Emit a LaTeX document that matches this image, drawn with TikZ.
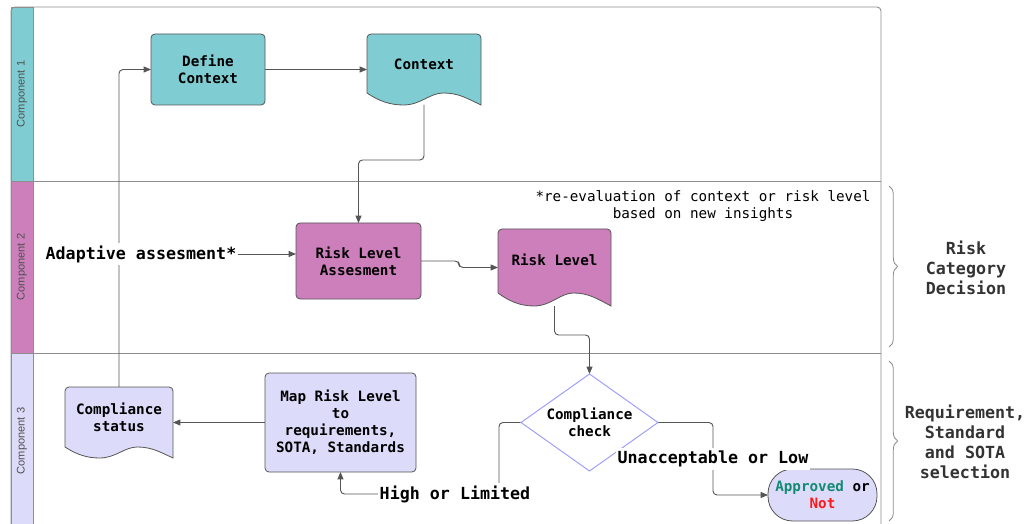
\documentclass[tikz,border=0pt]{standalone}
\usepackage{fontspec}
\setmainfont{DejaVu Sans Mono}
\newfontfamily\lanefont{Liberation Sans}
\usetikzlibrary{arrows.meta,decorations.pathreplacing,calc}
\definecolor{teal1}{HTML}{7FCDD3}
\definecolor{pink1}{HTML}{CC7FBB}
\definecolor{lav1}{HTML}{DCDCFA}
\definecolor{edge}{HTML}{555555}
\definecolor{framec}{HTML}{8E8E8E}
\definecolor{okgreen}{HTML}{138A72}
\definecolor{nored}{HTML}{FF1A1A}
\definecolor{diab}{HTML}{9A9AFA}
\definecolor{lanegray}{HTML}{505050}
\definecolor{rtext}{HTML}{333333}
\pgfdeclarelayer{bg}
\pgfdeclarelayer{cn}
\pgfsetlayers{bg,cn,main}
\newcommand\docshape[6]{%
 \path[draw=edge, line width=0.6pt, fill=#6] (#1,{#4-#5}) [rounded corners=3pt] -- (#1,#2) -- (#3,#2) [sharp corners] -- (#3,#4)
 .. controls ({#3-0.12*(#3-#1)},{#4-0.55*#5}) and ({#1+0.8*(#3-#1)},{#4-#5}) .. ({#1+0.67*(#3-#1)},{#4-#5})
 .. controls ({#1+0.55*(#3-#1)},{#4-#5}) and ({#1+0.47*(#3-#1)},#4) .. ({#1+0.32*(#3-#1)},#4)
 .. controls ({#1+0.2*(#3-#1)},#4) and ({#1+0.1*(#3-#1)},{#4-0.35*#5}) .. (#1,{#4-#5}) -- cycle;}
\begin{document}
\begin{tikzpicture}[x=0.75pt,y=-0.75pt,
  every node/.style={inner sep=0pt, outer sep=0pt},
  fa/.style={font=\bfseries\fontsize{10.7}{12.75}\selectfont},
  fb/.style={font=\bfseries\fontsize{12.5}{15}\selectfont},
  procbox/.style={draw=edge, line width=0.6pt, rounded corners=3pt, align=center, fa},
  doctext/.style={align=center, fa},
  conn/.style={draw=edge, line width=0.7pt, rounded corners=3pt, -{Triangle[length=5.5pt,width=4.5pt]}},
  lbl/.style={fill=white, fb, inner xsep=1pt, inner ysep=2pt},
  lanehead/.style={draw=framec, line width=0.6pt},
  lanetxt/.style={rotate=90, font=\lanefont\fontsize{8.3}{10}\selectfont, text=lanegray},
  framel/.style={draw=framec, line width=0.7pt},
]
\useasboundingbox (0,0) rectangle (1025,524);

\begin{pgfonlayer}{bg}
  \path[lanehead, fill=teal1] (11,7) rectangle (33,181);
  \path[lanehead, fill=pink1] (11,181) rectangle (33,353);
  \path[lanehead, fill=lav1] (11,353) rectangle (33,540);
  \draw[framel, rounded corners=3pt] (11,540) -- (11,7) -- (881,7) -- (881,540);
  \draw[framel] (11,181) -- (881,181);
  \draw[framel] (11,353) -- (881,353);
  \node[lanetxt] (lane1) at (22,94) {Component 1};
  \node[lanetxt] (lane2) at (22,267) {Component 2};
  \node[lanetxt] (lane3) at (22,441) {Component 3};
  \draw[framel, line width=0.6pt, decorate, decoration={brace, amplitude=6.5pt}] (889,186) -- (889,347);
  \draw[framel, line width=0.6pt, decorate, decoration={brace, amplitude=6.5pt}] (889,361) -- (889,521);
\end{pgfonlayer}

% component 1
\node[procbox, fill=teal1, minimum width=85.5pt, minimum height=53.25pt] (dc) at (208,69.5) {Define\\Context};
\docshape{367}{34}{481}{105}{12}{teal1}
\node[minimum width=85.5pt, minimum height=53.25pt] (ctx) at (424,69.5) {};
\node[doctext] (ctxt) at (424,64) {Context};

% component 2
\node[procbox, fill=pink1, minimum width=93.75pt, minimum height=57pt] (rla) at (358.5,261) {Risk Level\\Assesment};
\docshape{498}{229}{611}{306}{13}{pink1}
\node[minimum width=84.75pt, minimum height=57.75pt] (rl) at (554.5,267.5) {};
\node[doctext] (rlt) at (554.5,260) {Risk Level};

% component 3
\node[procbox, fill=lav1, minimum width=113.25pt, minimum height=74.25pt] (map) at (340.5,422.5) {Map Risk Level\\to\\requirements,\\SOTA, Standards};
\docshape{65}{387}{173}{458}{11}{lav1}
\node[minimum width=81pt, minimum height=53.25pt] (cs) at (119,422.5) {};
\node[doctext] (cst) at (119,417) {Compliance\\status};

\node[fa, align=center, minimum width=102.75pt, minimum height=72.75pt] (cc) at (589.5,422.5) {Compliance\\check};
\draw[diab, line width=0.7pt] (cc.north) -- (cc.east) -- (cc.south) -- (cc.west) -- cycle;
\node[procbox, fill=lav1, rounded corners=18.5pt, minimum width=81.75pt, minimum height=39pt] (ap) at (822.5,495) {\textcolor{okgreen}{Approved} or\\\textcolor{nored}{Not}};

% labels
\node[lbl] (adapt) at (141,254) {Adaptive assesment*};
\node[lbl] (hl) at (455,494) {High or Limited};
\node[lbl] (ul) at (713,459) {Unacceptable or Low};
\node[align=center, font=\fontsize{10.7}{12.75}\selectfont] (note) at (703,206) {*re-evaluation of context or risk level\\based on new insights};
\node[align=center, fb, text=rtext] (rcd) at (966,268) {Risk\\Category\\Decision};
\node[align=center, fb, text=rtext] (rss) at (965,442) {Requirement,\\Standard\\and SOTA\\selection};

% connectors
\coordinate (hlc) at (499,494);
\coordinate (ulc) at (713,421);
\begin{pgfonlayer}{cn}
  \draw[conn] (dc.east) -- (ctx.west);
  \draw[conn] (ctx.south) -- ++(0,55) -| (rla.north);
  \draw[conn] (adapt.east) -- (adapt.east -| rla.west);
  \draw[conn] (cs.north) |- (dc.west);
  \draw[conn] (rla.east) -- ++(38,0) |- (rl.west);
  \draw[conn] (rl.south) -- ++(0,29) -| (cc.north);
  \draw[conn] (map.west) -- (cs.east);
  \draw[conn] (cc.west) -| (hlc) -| (map.south);
  \draw[conn] (cc.east) -- (cc.east -| ulc) |- (ap.west);
\end{pgfonlayer}
\end{tikzpicture}
\end{document}
